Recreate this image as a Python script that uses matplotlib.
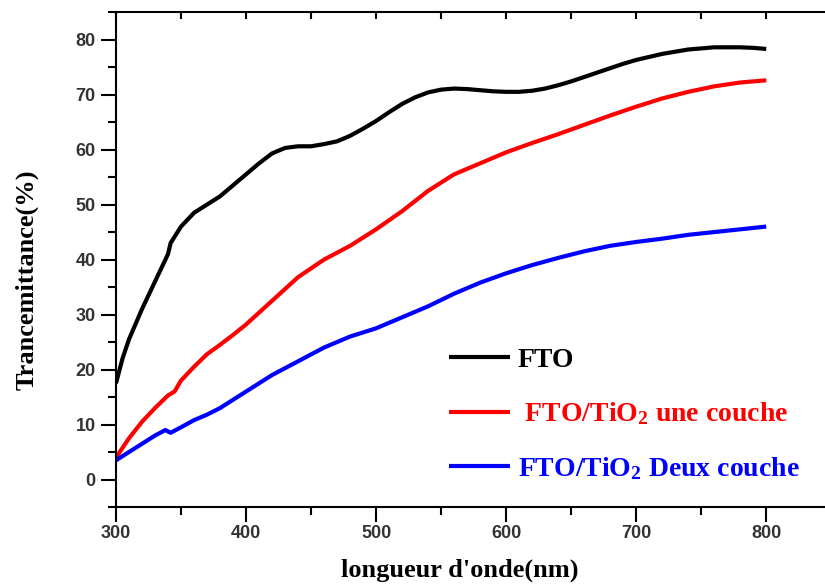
import numpy as np
import matplotlib.pyplot as plt
from matplotlib.ticker import MultipleLocator

# wavelength (nm) and transmittance (%)
wl_fto = [300, 305, 310, 320, 330, 340, 342, 350, 360, 370, 380, 390, 400, 410,
          420, 430, 440, 450, 460, 470, 480, 490, 500, 510, 520, 530, 540, 550,
          560, 570, 580, 590, 600, 610, 620, 630, 640, 650, 660, 670, 680, 690,
          700, 720, 740, 760, 780, 790, 800]
t_fto = [17.5, 22, 25.5, 31, 36, 41, 43, 46, 48.5, 50, 51.5, 53.5, 55.5, 57.5,
         59.3, 60.3, 60.6, 60.6, 61, 61.5, 62.5, 63.8, 65.2, 66.8, 68.3, 69.5, 70.4, 70.9,
         71.1, 71, 70.8, 70.6, 70.5, 70.5, 70.7, 71.1, 71.7, 72.4, 73.2, 74, 74.8, 75.6,
         76.3, 77.4, 78.2, 78.6, 78.6, 78.5, 78.3]

wl_une = [300, 310, 320, 330, 340, 345, 350, 360, 370, 380, 390, 400, 420, 440,
          460, 480, 500, 520, 540, 560, 580, 600, 620, 640, 660, 680, 700, 720,
          740, 760, 780, 800]
t_une = [4, 7.5, 10.5, 13, 15.3, 16, 18, 20.5, 22.8, 24.5, 26.3, 28.2, 32.5, 36.8,
         40, 42.5, 45.5, 48.8, 52.5, 55.5, 57.5, 59.5, 61.2, 62.8, 64.5, 66.2, 67.8, 69.3,
         70.5, 71.5, 72.2, 72.6]

wl_deux = [300, 310, 320, 330, 338, 342, 350, 360, 370, 380, 390, 400, 420, 440,
           460, 480, 500, 520, 540, 560, 580, 600, 620, 640, 660, 680, 700, 720,
           740, 760, 780, 800]
t_deux = [3.5, 5, 6.5, 8, 9, 8.5, 9.5, 10.8, 11.8, 13, 14.5, 16, 19, 21.5,
          24, 26, 27.5, 29.5, 31.5, 33.8, 35.8, 37.5, 39, 40.3, 41.5, 42.5, 43.2, 43.8,
          44.5, 45, 45.5, 46]

labels = ["FTO", " FTO/TiO$_2$ une couche", "FTO/TiO$_2$ Deux couche"]
colors = ["black", "red", "blue"]

plt.rcParams['mathtext.fontset'] = 'custom'
plt.rcParams['mathtext.rm'] = 'Liberation Serif:bold'
plt.rcParams['mathtext.it'] = 'Liberation Serif:bold'
plt.rcParams['mathtext.bf'] = 'Liberation Serif:bold'

fig = plt.figure(figsize=(8.25, 5.85), dpi=100)
ax = fig.add_axes([0.1406, 0.1333, 0.867, 0.846])

series = [(wl_fto, t_fto), (wl_une, t_une), (wl_deux, t_deux)]
for (x, y), lab, c in zip(series, labels, colors):
    ax.plot(x, y, color=c, lw=3, label=lab, solid_capstyle='butt')

ax.set_xlim(300, 850)
ax.set_ylim(-5, 85)
ax.xaxis.set_major_locator(MultipleLocator(100))
ax.xaxis.set_minor_locator(MultipleLocator(50))
ax.yaxis.set_major_locator(MultipleLocator(10))
ax.yaxis.set_minor_locator(MultipleLocator(5))
ax.set_yticks(range(0, 81, 10))

ax.tick_params(which='major', direction='out', length=11, width=1.5,
               labelsize=13, labelcolor='#333333')
ax.tick_params(axis='x', which='major', pad=2)
ax.tick_params(which='minor', direction='out', length=6, width=1.5)
ax.tick_params(which='both', top=True, labeltop=False)
for t in ax.get_xticklabels() + ax.get_yticklabels():
    t.set_fontweight('bold')
    t.set_family('Liberation Sans')

for tk in ax.xaxis.get_major_ticks() + ax.xaxis.get_minor_ticks():
    tk.tick2line.set_marker(3)
    tk.tick2line.set_markersize(5)

for s in ax.spines.values():
    s.set_linewidth(1.5)
ax.spines['right'].set_visible(False)

ax.set_xlabel("longueur d'onde(nm)", fontsize=19, fontweight='bold',
              family='Liberation Serif')
ax.xaxis.set_label_coords(0.48, -0.105)
ax.set_ylabel("Trancemittance(%)", fontsize=19, fontweight='bold',
              family='Liberation Serif')
ax.yaxis.set_label_coords(-0.108, 0.46)

leg = ax.legend(loc='lower left', bbox_to_anchor=(0.43, 0.0), frameon=False,
                handlelength=2.2, handletextpad=0.3, labelspacing=1.0,
                prop={'family': 'Liberation Serif', 'weight': 'bold', 'size': 20})
for txt, c in zip(leg.get_texts(), colors):
    txt.set_color(c)

fig.savefig("out.png", dpi=100)
